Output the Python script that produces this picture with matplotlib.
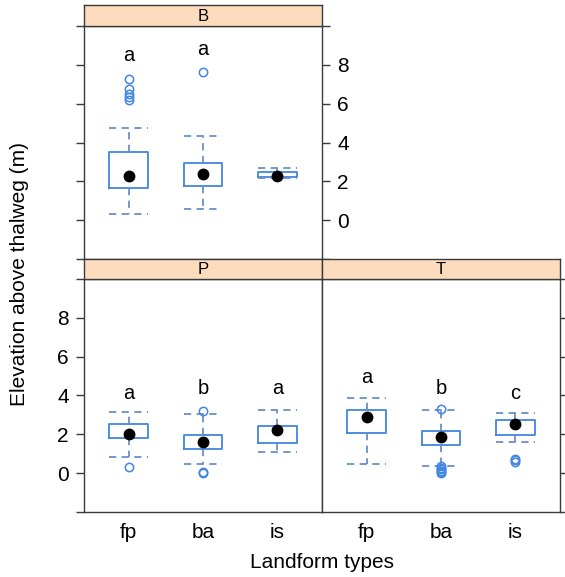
import matplotlib
matplotlib.use("Agg")
import matplotlib.pyplot as plt

plt.rcParams['font.family'] = ['Liberation Sans', 'DejaVu Sans']

categories = ["fp", "ba", "is"]

# panel B
b_med = [2.25, 2.39, 2.30]
b_q1 = [1.68, 1.75, 2.22]
b_q3 = [3.50, 2.94, 2.49]
b_lo = [0.33, 0.59, 2.17]
b_hi = [4.73, 4.35, 2.70]
b_out = [[7.26, 6.74, 6.49, 6.35, 6.20], [7.64], []]
b_letters = ["a", "a", ""]
b_letter_y = [8.5, 8.78, 0]

# panel P
p_med = [2.02, 1.61, 2.23]
p_q1 = [1.79, 1.26, 1.55]
p_q3 = [2.55, 1.97, 2.41]
p_lo = [0.81, 0.48, 1.10]
p_hi = [3.16, 3.04, 3.24]
p_out = [[0.33], [3.18, 0.07, 0.0], []]
p_letters = ["a", "b", "a"]
p_letter_y = [4.1, 4.35, 4.35]

# panel T
t_med = [2.90, 1.85, 2.52]
t_q1 = [2.09, 1.45, 1.97]
t_q3 = [3.26, 2.18, 2.73]
t_lo = [0.47, 0.38, 1.61]
t_hi = [3.87, 3.26, 3.09]
t_out = [[], [3.32, 0.35, 0.28, 0.2, 0.12, 0.05, 0.0], [0.75, 0.68, 0.6]]
t_letters = ["a", "b", "c"]
t_letter_y = [4.92, 4.35, 4.1]

ytick_vals = [-2, 0, 2, 4, 6, 8, 10]
ytick_labels = ["", "0", "2", "4", "6", "8", ""]

BOX = "#4286e0"
WHISK = "#6a8fc8"
FRAME = "#3a3a3a"
STRIP = "#fddcbd"

W, H = 565, 577
fig = plt.figure(figsize=(W / 100, H / 100), dpi=100)


def px(x0, y0, x1, y1):
    return [x0 / W, 1 - y1 / H, (x1 - x0) / W, (y1 - y0) / H]


def draw_panel(rect, strip_rect, name, med, q1, q3, lo, hi, out, letters, letter_y,
               left_labels, right_ticks, right_labels, left_ticks, xlabels):
    ax = fig.add_axes(rect)
    stats = []
    for i in range(len(categories)):
        stats.append(dict(med=med[i], q1=q1[i], q3=q3[i], whislo=lo[i],
                          whishi=hi[i], fliers=out[i]))
    pos = [1, 2, 3]
    ax.bxp(stats, positions=pos, widths=0.52, capwidths=0.52,
           boxprops=dict(color=BOX, lw=1.3),
           whiskerprops=dict(color=WHISK, lw=1.3, linestyle=(0, (4, 3))),
           capprops=dict(color=WHISK, lw=1.3, linestyle=(0, (4, 3))),
           flierprops=dict(marker="o", markerfacecolor="none", markeredgecolor=BOX,
                           markersize=6, markeredgewidth=1.1),
           medianprops=dict(linewidth=0))
    ax.plot(pos, med, "o", color="black", markersize=7.5, zorder=5)
    for i, lab in enumerate(letters):
        if lab:
            ax.text(pos[i], letter_y[i], lab, ha="center", va="center", fontsize=14.5)
    ax.set_xlim(0.4, 3.6)
    ax.set_ylim(-2, 10)
    ax.set_yticks(ytick_vals)
    ax.set_yticklabels(ytick_labels)
    ax.set_xticks(pos)
    ax.set_xticklabels(categories if xlabels else [""] * 3)
    ax.tick_params(axis="x", length=0, labelsize=15, pad=8,
                   labelbottom=xlabels)
    ax.tick_params(axis="y", length=6, width=1, color=FRAME, labelsize=15, pad=5,
                   left=left_ticks, labelleft=left_labels,
                   right=right_ticks, labelright=right_labels)
    for s in ax.spines.values():
        s.set_color(FRAME)
        s.set_linewidth(1.0)

    sx = fig.add_axes(strip_rect)
    sx.set_facecolor(STRIP)
    sx.set_xticks([])
    sx.set_yticks([])
    for s in sx.spines.values():
        s.set_color(FRAME)
        s.set_linewidth(1.0)
    sx.text(0.5, 0.45, name, ha="center", va="center", fontsize=12,
            transform=sx.transAxes)
    return ax


draw_panel(px(84, 26, 322, 259), px(84, 5, 322, 26), "B",
           b_med, b_q1, b_q3, b_lo, b_hi, b_out, b_letters, b_letter_y,
           left_labels=False, right_ticks=True, right_labels=True,
           left_ticks=True, xlabels=False)
draw_panel(px(84, 279, 322, 512), px(84, 259, 322, 279), "P",
           p_med, p_q1, p_q3, p_lo, p_hi, p_out, p_letters, p_letter_y,
           left_labels=True, right_ticks=False, right_labels=False,
           left_ticks=True, xlabels=True)
draw_panel(px(322, 279, 560, 512), px(322, 259, 560, 279), "T",
           t_med, t_q1, t_q3, t_lo, t_hi, t_out, t_letters, t_letter_y,
           left_labels=False, right_ticks=True, right_labels=False,
           left_ticks=False, xlabels=True)

fig.text(322 / W, 1 - 562 / H, "Landform types", ha="center", va="center", fontsize=15)
fig.text(20 / W, 1 - 274 / H, "Elevation above thalweg (m)", ha="center", va="center",
         rotation=90, fontsize=15)

fig.savefig("out.png", dpi=100)
